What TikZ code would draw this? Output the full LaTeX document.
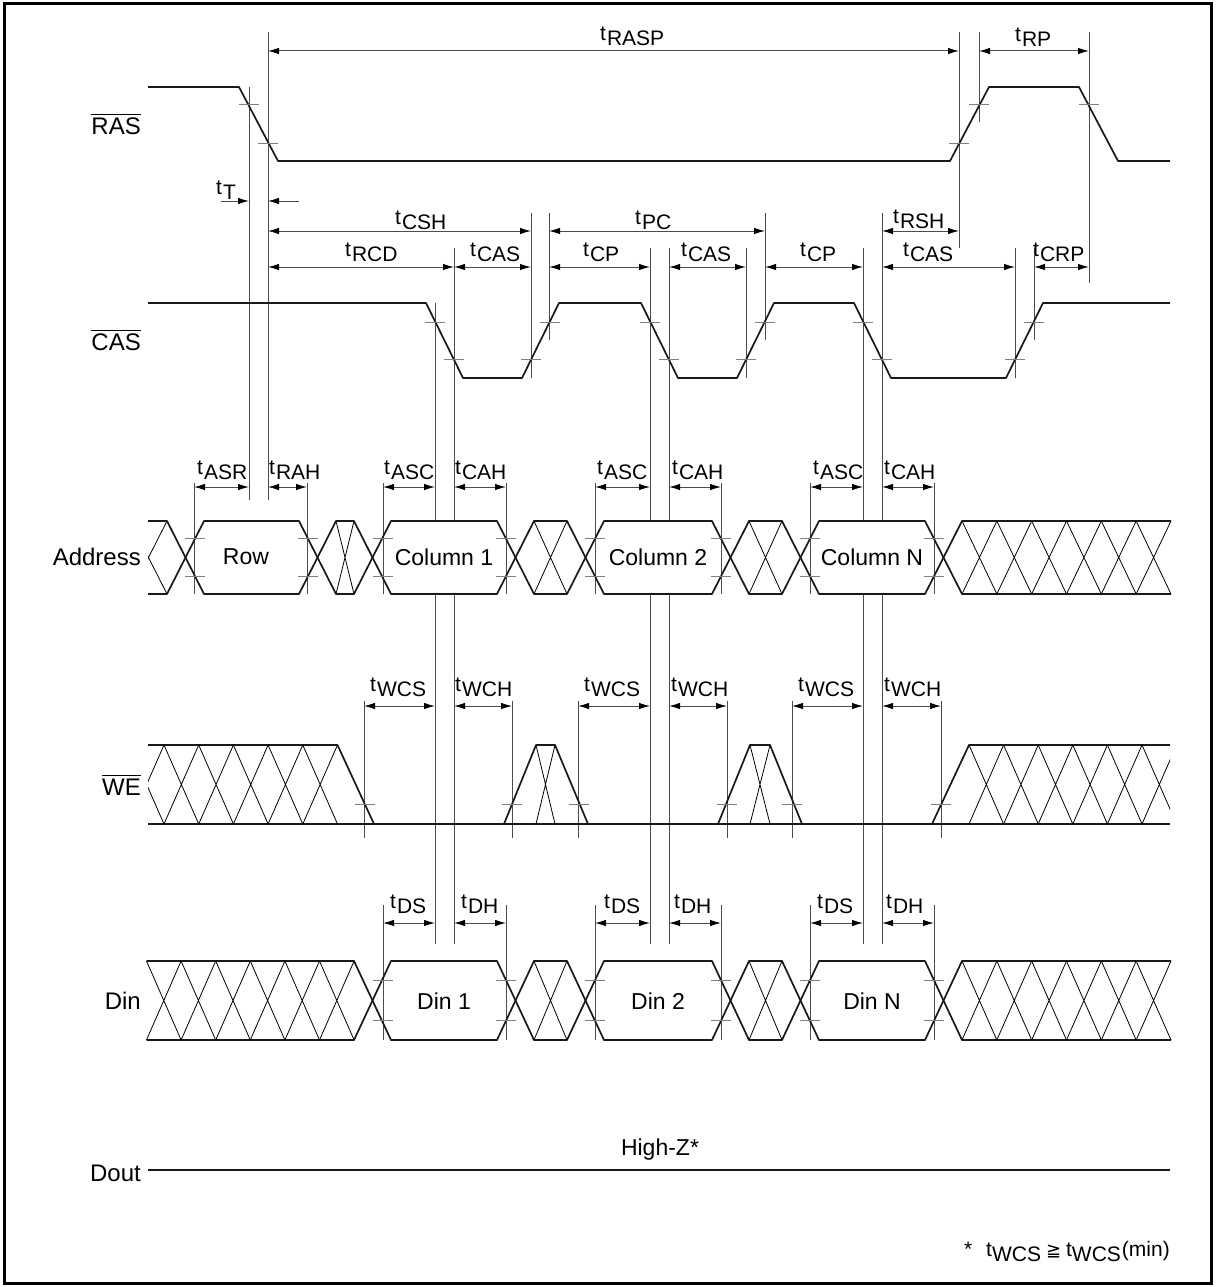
\documentclass[tikz,border=0pt]{standalone}
\usepackage{fontspec}
\setmainfont{Liberation Sans}
\newfontfamily\djv{DejaVu Sans}
\usetikzlibrary{arrows.meta}
\newcommand\ovl[1]{\setbox0=\hbox{#1}\rlap{\rule[\dimexpr\ht0+2.5pt\relax]{\wd0}{1.3pt}}\box0}
\newcommand\tickm[2]{\draw[tk] ({#1-10},#2) -- ({#1+10},#2);}
\newcommand\vref[3]{\draw[vl] (#1,#2) -- (#1,#3);}
\newcommand\darr[3]{\draw[dim] (#1,#3) -- (#2,#3);}
\newcommand\tlab[4]{\node[lab] (#1) at (#2,#3) {\raisebox{5pt}{t}\kern1pt#4};}
\newcommand\xcells[5]{\foreach \i in {1,...,#3}{\draw[hat] ({#1+(\i-1)*#2},#4) -- ({#1+\i*#2},#5) ({#1+(\i-1)*#2},#5) -- ({#1+\i*#2},#4);}}
\begin{document}
\begin{tikzpicture}[x=1pt,y=-1pt,
 sig/.style={line width=1.7pt, black!90, line join=round},
 hat/.style={line width=0.8pt, black},
 tk/.style={line width=1pt, black!50},
 vl/.style={line width=1pt, black!70},
 dim/.style={line width=1pt, black!70, {Latex[length=11pt,width=6.5pt,black]}-{Latex[length=11pt,width=6.5pt,black]}},
 rdim/.style={line width=1pt, black!70, -{Latex[length=11pt,width=6.5pt,black]}},
 lab/.style={inner sep=0pt, font=\fontsize{21}{24}\selectfont, anchor=base west},
 sname/.style={inner sep=0pt, font=\fontsize{24}{27}\selectfont},
 bname/.style={inner sep=0pt, font=\fontsize{23}{26}\selectfont}]
\useasboundingbox (0,0) rectangle (1215,1287);
\draw[line width=3pt] (4,4) rectangle (1211,1283);

% ---------- vertical reference lines ----------
\vref{249}{87}{500}
\vref{268}{32}{500}
\vref{959}{32}{248}
\vref{979}{32}{122}
\vref{1089}{32}{283}
\vref{435}{303}{521} \vref{435}{594}{944}
\vref{454}{248}{521} \vref{454}{594}{944}
\vref{531}{213}{378}
\vref{549}{213}{340}
\vref{650}{248}{521} \vref{650}{594}{944}
\vref{669}{248}{521} \vref{669}{594}{944}
\vref{746}{248}{378}
\vref{765}{213}{340}
\vref{863}{248}{521} \vref{863}{594}{944}
\vref{882}{213}{521} \vref{882}{594}{944}
\vref{1015}{248}{378}
\vref{1034}{248}{340}
\foreach \x in {194,307,383,506,595,721,810,934} {\vref{\x}{483}{594}}
\foreach \x in {364,512,578,727,792,941} {\vref{\x}{701}{838}}
\foreach \x in {383,506,595,721,810,934} {\vref{\x}{905}{1040}}

% ---------- dimension arrows ----------
\darr{268}{959}{51}
\darr{979}{1089}{51}
\draw[rdim] (221,201) -- (249,201);
\draw[rdim] (299,201) -- (268,201);
\darr{268}{531}{231}
\darr{549}{765}{231}
\darr{882}{959}{231}
\darr{268}{454}{267}
\darr{454}{531}{267}
\darr{549}{650}{267}
\darr{669}{746}{267}
\darr{765}{863}{267}
\darr{882}{1015}{267}
\darr{1034}{1089}{267}
\darr{194}{249}{487}
\darr{268}{307}{487}
\darr{383}{435}{487}
\darr{454}{506}{487}
\darr{595}{650}{487}
\darr{669}{721}{487}
\darr{810}{863}{487}
\darr{882}{934}{487}
\darr{364}{435}{706}
\darr{454}{512}{706}
\darr{578}{650}{706}
\darr{669}{727}{706}
\darr{792}{863}{706}
\darr{882}{941}{706}
\darr{383}{435}{923}
\darr{454}{506}{923}
\darr{595}{650}{923}
\darr{669}{721}{923}
\darr{810}{863}{923}
\darr{882}{934}{923}

% ---------- timing labels ----------
\tlab{lRASP}{600}{46}{RASP}
\tlab{lRP}{1015}{47}{RP}
\tlab{lT}{216}{199}{T}
\tlab{lCSH}{395}{229}{CSH}
\tlab{lPC}{635}{229}{PC}
\tlab{lRSH}{893}{228}{RSH}
\tlab{lRCD}{345}{261}{RCD}
\tlab{lCASa}{470}{261}{CAS}
\tlab{lCPa}{583}{261}{CP}
\tlab{lCASb}{681}{261}{CAS}
\tlab{lCPb}{800}{261}{CP}
\tlab{lCASc}{903}{261}{CAS}
\tlab{lCRP}{1033}{261}{CRP}
\tlab{lASR}{197}{479}{ASR}
\tlab{lRAH}{269}{479}{RAH}
\tlab{lASCa}{384}{479}{ASC}
\tlab{lCAHa}{455}{479}{CAH}
\tlab{lASCb}{597}{479}{ASC}
\tlab{lCAHb}{672}{479}{CAH}
\tlab{lASCc}{813}{479}{ASC}
\tlab{lCAHc}{884}{479}{CAH}
\tlab{lWCSa}{370}{696}{WCS}
\tlab{lWCHa}{455}{696}{WCH}
\tlab{lWCSb}{584}{696}{WCS}
\tlab{lWCHb}{671}{696}{WCH}
\tlab{lWCSc}{798}{696}{WCS}
\tlab{lWCHc}{884}{696}{WCH}
\tlab{lDSa}{390}{913}{DS}
\tlab{lDHa}{461}{913}{DH}
\tlab{lDSb}{604}{913}{DS}
\tlab{lDHb}{674}{913}{DH}
\tlab{lDSc}{817}{913}{DS}
\tlab{lDHc}{886}{913}{DH}

% ---------- RAS / CAS ----------
\draw[sig] (148,87)--(239,87)--(278,161)--(950,161)--(989,87)--(1079,87)--(1118,161)--(1170,161);
\draw[sig] (148,303)--(426,303)--(463,378)--(522,378)--(559,303)--(641,303)--(678,378)--(737,378)--(774,303)--(854,303)--(891,378)--(1006,378)--(1043,303)--(1170,303);
\tickm{249}{105} \tickm{268}{143} \tickm{959}{143} \tickm{979}{105} \tickm{1089}{105}
\tickm{435}{322} \tickm{454}{359} \tickm{531}{359} \tickm{550}{322}
\tickm{650}{322} \tickm{669}{359} \tickm{746}{359} \tickm{765}{322}
\tickm{863}{322} \tickm{882}{359} \tickm{1015}{359} \tickm{1034}{322}

% ---------- Address ----------
\draw[sig] (148,521)--(167,521)--(204,594)--(299,594)--(336,521)--(354,521)--(391,594)--(497,594)--(534,521)--(567,521)--(604,594)--(712,594)--(749,521)--(782,521)--(819,594)--(925,594)--(962,521)--(1171,521);
\draw[sig] (148,594)--(167,594)--(204,521)--(299,521)--(336,594)--(354,594)--(391,521)--(497,521)--(534,594)--(567,594)--(604,521)--(712,521)--(749,594)--(782,594)--(819,521)--(925,521)--(962,594)--(1171,594);
\begin{scope}\clip (148,500) rectangle (167,620); \xcells{130}{37}{1}{521}{594} \end{scope}
\xcells{336}{18}{1}{521}{594}
\xcells{534}{33}{1}{521}{594}
\xcells{749}{33}{1}{521}{594}
\xcells{962}{34.83}{6}{521}{594}
\foreach \x in {195,308,383,506,595,721,810,934} {\tickm{\x}{538} \tickm{\x}{576}}

% ---------- WE ----------
\draw[sig] (148,745)--(337.5,745)--(374,824);
\draw[sig] (504,824)--(536,745)--(555,745)--(588,824);
\draw[sig] (718,824)--(750,745)--(770,745)--(802,824);
\draw[sig] (932,824)--(969,745)--(1170,745);
\draw[sig] (148,824)--(1170,824);
\begin{scope}\clip (148,740) rectangle (400,830); \xcells{129.3}{34.7}{6}{745}{824} \end{scope}
\draw[hat] (536,745)--(555,824) (555,745)--(536,824);
\draw[hat] (750,745)--(770,824) (770,745)--(750,824);
\begin{scope}\clip (900,740) rectangle (1170,830); \xcells{969}{34.6}{6}{745}{824} \end{scope}
\foreach \x in {365,512,579,727,792,941} {\tickm{\x}{804}}

% ---------- Din ----------
\draw[sig] (146.5,961)--(354,961)--(391,1040)--(497,1040)--(534,961)--(567,961)--(604,1040)--(712,1040)--(749,961)--(782,961)--(819,1040)--(925,1040)--(962,961)--(1171,961);
\draw[sig] (146.5,1040)--(354,1040)--(391,961)--(497,961)--(534,1040)--(567,1040)--(604,961)--(712,961)--(749,1040)--(782,1040)--(819,961)--(925,961)--(962,1040)--(1171,1040);
\xcells{146.5}{34.6}{6}{961}{1040}
\xcells{534}{33}{1}{961}{1040}
\xcells{749}{33}{1}{961}{1040}
\xcells{962}{34.83}{6}{961}{1040}
\foreach \x in {383,506,595,721,810,934} {\tickm{\x}{980} \tickm{\x}{1020}}

% ---------- signal names and box texts ----------
\node[sname,anchor=east] (nRAS) at (141,124) {\ovl{RAS}};
\node[sname,anchor=east] (nCAS) at (141,340) {\ovl{CAS}};
\node[sname,anchor=east] (nAddr) at (141,557) {Address};
\node[sname,anchor=east] (nWE) at (141,785) {\ovl{WE}};
\node[sname,anchor=east] (nDin) at (141,1001) {Din};
\node[sname,anchor=east] (nDout) at (141,1173) {Dout};
\node[bname] (bRow) at (246,557) {Row};
\node[bname] (bCa) at (444,557) {Column 1};
\node[bname] (bCb) at (658,557) {Column 2};
\node[bname] (bCc) at (872,557) {Column N};
\node[bname] (bDa) at (444,1001) {Din 1};
\node[bname] (bDb) at (658,1001) {Din 2};
\node[bname] (bDc) at (872,1001) {Din N};
\coordinate (doutEnd) at (1170,1170);
\draw[sig, line width=2.2pt] (nDout.east |- doutEnd) ++(7,0) -- (doutEnd);
\node[bname] (hz) at (660,1150) {High-Z*};
\node[lab, anchor=base east] (foot) at (1170,1256) {*\hspace{14pt}t\raisebox{-5pt}{WCS}\kern5pt{\djv\fontsize{18}{20}\selectfont ≧}\kern5pt t\raisebox{-5pt}{WCS}\kern1pt(min)};
\end{tikzpicture}
\end{document}
